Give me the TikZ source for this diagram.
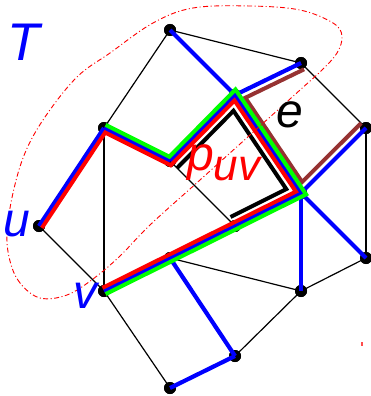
\documentclass[tikz,border=0pt]{standalone}
\usepackage{fontspec}
\setmainfont{Liberation Sans}
\usetikzlibrary{calc}
\definecolor{tblue}{RGB}{0,0,255}
\definecolor{tred}{RGB}{255,0,0}
\definecolor{tgreen}{RGB}{0,255,0}
\definecolor{tbrown}{RGB}{150,50,50}
\begin{document}
\begin{tikzpicture}[x=1pt,y=-1pt,
  vtx/.style={circle,fill=black,inner sep=0pt,minimum size=12pt},
  thinedge/.style={black,line width=1.2pt},
  treeedge/.style={tblue,line width=4.2pt},
  redpath/.style={tred,line width=4pt},
  greenpath/.style={tgreen,line width=4pt},
  blackpath/.style={black,line width=4pt},
  brownpath/.style={tbrown,line width=4pt},
  blob/.style={tred,line width=0.9pt,dash pattern=on 5pt off 2.5pt on 1pt off 2.5pt},
  lbl/.style={inner sep=0pt,anchor=base,font=\fontsize{48}{48}\selectfont\itshape}
]
\useasboundingbox (0,0) rectangle (371,396);

% vertices
\node[vtx] (A) at (170,30) {};
\node[vtx] (B) at (301,63) {};
\node[vtx] (C) at (366,128) {};
\node[vtx] (D) at (366,258) {};
\node[vtx] (E) at (301,291) {};
\node[vtx] (F) at (235,356) {};
\node[vtx] (G) at (170,388) {};
\node[vtx] (u) at (39,226) {};
\node[vtx] (w) at (104,128) {};
\node[vtx] (x) at (170,161) {};
\node[vtx] (y) at (235,95) {};
\node[vtx] (z) at (301,193) {};
\node[vtx] (c) at (235,226) {};
\node[vtx] (h) at (170,258) {};
\node[vtx] (v) at (104,291) {};

% thin black edges
\foreach \a/\b in {A/B,A/w,B/C,C/D,D/E,E/h,E/F,G/v,v/u,w/v,x/c}
  \draw[thinedge] (\a.center) -- (\b.center);
% dots over thin edges
\foreach \n in {A,B,C,D,E,F,G,u,w,x,y,z,c,h,v}
  \fill (\n) circle (6pt);

% spanning tree T (blue)
\foreach \a/\b in {A/y,y/B,C/z,z/D,z/E,h/F,F/G,u/w,w/x,x/y,y/z,v/h,h/c,c/z}
  \draw[treeedge] (\a.center) -- (\b.center);

% brown path B-y-z-C (cycle with e)
\draw[brownpath] ($(B)+(3.1,6.3)$) -- ($(y)+(10.3,2.8)$) -- ($(z)+(1.1,-11.0)$) -- ($(C)+(-4.9,-4.9)$);

% black thick path x-y-z-c
\draw[blackpath] ($(x)+(7.1,7.0)$) -- ($(y)+(-1.5,15.8)$) -- ($(z)+(-14.7,-3.9)$) -- ($(c)+(-4.5,-9.0)$);

% green path w-x-y-z-v
\draw[greenpath] ($(w)+(1.6,-3.1)$) -- ($(x)+(-0.7,-4.3)$) -- ($(y)+(0.5,-5.5)$) -- ($(z)+(5.1,1.4)$) -- ($(v)+(1.6,3.1)$);

% red path p_uv
\draw[redpath] ($(u)+(2.9,1.9)$) -- ($(w)+(1.2,4.5)$) -- ($(x)+(0.7,4.3)$) -- ($(y)+(-0.5,5.5)$) -- ($(z)+(-5.1,-1.4)$) -- ($(v)+(-1.6,-3.1)$);

% dash-dot region
\draw[blob] plot[smooth cycle, tension=0.6] coordinates {
  (40,298) (20,283) (10,261) (7,233) (13,193) (25,153) (45,117) (77,77)
  (110,53) (153,23) (193,8) (250,6) (300,10) (333,23) (342,36) (337,53)
  (322,70) (300,90) (250,135) (200,180) (150,225) (120,256) (93,279) (67,295)};
\fill[tred!70] (360.5,341.5) rectangle (362.5,345.5);

% labels
\node[lbl,text=tblue,font=\fontsize{53}{53}\selectfont\itshape] (Tl) at (24,60) {T};
\node[lbl,text=tblue] (ul) at (17,236) {u};
\node[lbl,text=tblue] (vl) at (85,308) {v};
\node[lbl,text=black] (el) at (290,127) {e};
\node[lbl,text=tred,anchor=base west] (pl) at (187,170) {p\raisebox{-10pt}{\fontsize{44}{44}\selectfont uv}};
\end{tikzpicture}
\end{document}
